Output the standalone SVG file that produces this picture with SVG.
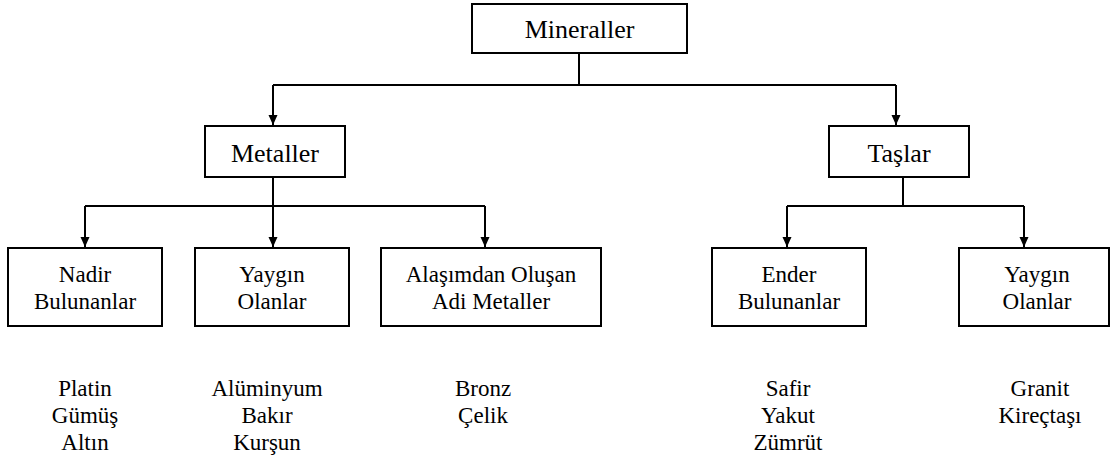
<svg xmlns="http://www.w3.org/2000/svg" width="1111" height="459" viewBox="0 0 1111 459">
<style>
.box{fill:#fff;stroke:#000;stroke-width:2}
text{font-family:"Liberation Serif",Tinos,"Times New Roman",Times,"Noto Serif","DejaVu Serif",FreeSerif,serif;fill:#000;text-anchor:middle}
.t1{font-size:26px}
.t2{font-size:23px}
.ln{fill:none;stroke:#000;stroke-width:2}
</style>
<defs>
<marker id="ah" markerUnits="userSpaceOnUse" markerWidth="10" markerHeight="10" refX="10" refY="4.5" orient="auto">
<path d="M0,0 L10,4.5 L0,9 z" fill="#000"/>
</marker>
</defs>
<rect width="1111" height="459" fill="#fff"/>
<g id="connectors">
<path class="ln" d="M579,53 V85"/>
<path class="ln" d="M273,85 H896"/>
<path class="ln" d="M273,85 V125" marker-end="url(#ah)"/>
<path class="ln" d="M896,85 V125" marker-end="url(#ah)"/>
<path class="ln" d="M273,177 V206"/>
<path class="ln" d="M85,206 H485"/>
<path class="ln" d="M85,206 V247" marker-end="url(#ah)"/>
<path class="ln" d="M273,206 V247" marker-end="url(#ah)"/>
<path class="ln" d="M485,206 V247" marker-end="url(#ah)"/>
<path class="ln" d="M903,177 V206"/>
<path class="ln" d="M787,206 H1024"/>
<path class="ln" d="M787,206 V247" marker-end="url(#ah)"/>
<path class="ln" d="M1024,206 V247" marker-end="url(#ah)"/>
</g>
<g id="mineraller">
<rect class="box" x="472" y="4" width="215" height="49"/>
<text class="t1" x="579.5" y="38">Mineraller</text>
</g>
<g id="metaller">
<rect class="box" x="205" y="126" width="140" height="51"/>
<text class="t1" x="275" y="162">Metaller</text>
</g>
<g id="taslar">
<rect class="box" x="829" y="126" width="140" height="51"/>
<text class="t1" x="899" y="162">Taşlar</text>
</g>
<g id="nadir">
<rect class="box" x="8" y="248" width="154" height="78"/>
<text class="t2" x="85" y="282">Nadir</text>
<text class="t2" x="85" y="309">Bulunanlar</text>
</g>
<g id="yaygin1">
<rect class="box" x="195" y="248" width="154" height="78"/>
<text class="t2" x="272" y="282">Yaygın</text>
<text class="t2" x="272" y="309">Olanlar</text>
</g>
<g id="alasim">
<rect class="box" x="381" y="248" width="220" height="78"/>
<text class="t2" x="491" y="282">Alaşımdan Oluşan</text>
<text class="t2" x="491" y="309">Adi Metaller</text>
</g>
<g id="ender">
<rect class="box" x="712" y="248" width="154" height="78"/>
<text class="t2" x="789" y="282">Ender</text>
<text class="t2" x="789" y="309">Bulunanlar</text>
</g>
<g id="yaygin2">
<rect class="box" x="959" y="248" width="150" height="78"/>
<text class="t2" x="1037" y="282">Yaygın</text>
<text class="t2" x="1037" y="309">Olanlar</text>
</g>
<g id="list-nadir">
<text class="t2" x="85" y="396">Platin</text>
<text class="t2" x="85" y="423">Gümüş</text>
<text class="t2" x="85" y="450">Altın</text>
</g>
<g id="list-yaygin1">
<text class="t2" x="267" y="396">Alüminyum</text>
<text class="t2" x="267" y="423">Bakır</text>
<text class="t2" x="267" y="450">Kurşun</text>
</g>
<g id="list-alasim">
<text class="t2" x="483" y="396">Bronz</text>
<text class="t2" x="483" y="423">Çelik</text>
</g>
<g id="list-ender">
<text class="t2" x="788" y="396">Safir</text>
<text class="t2" x="788" y="423">Yakut</text>
<text class="t2" x="788" y="450">Zümrüt</text>
</g>
<g id="list-yaygin2">
<text class="t2" x="1040" y="396">Granit</text>
<text class="t2" x="1040" y="423">Kireçtaşı</text>
</g>
</svg>
